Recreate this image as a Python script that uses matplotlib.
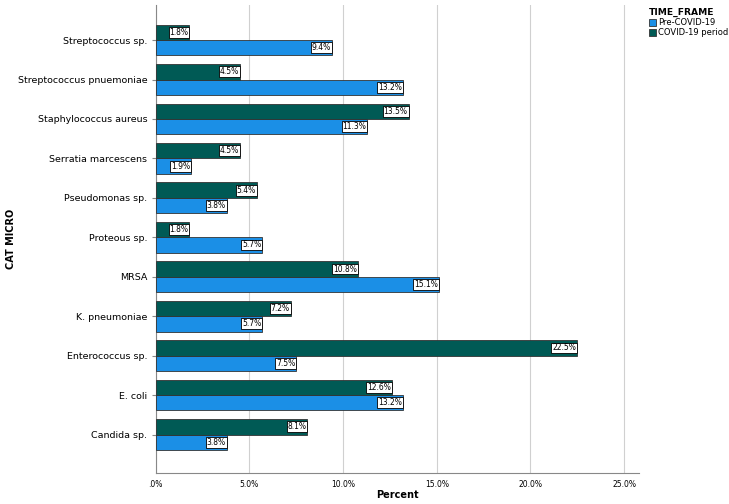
import numpy as np
import matplotlib.pyplot as plt

categories = ["Candida sp.", "E. coli", "Enterococcus sp.", "K. pneumoniae", "MRSA",
              "Proteous sp.", "Pseudomonas sp.", "Serratia marcescens",
              "Staphylococcus aureus", "Streptococcus pnuemoniae", "Streptococcus sp."]
pre_covid = [3.8, 13.2, 7.5, 5.7, 15.1, 5.7, 3.8, 1.9, 11.3, 13.2, 9.4]
covid = [8.1, 12.6, 22.5, 7.2, 10.8, 1.8, 5.4, 4.5, 13.5, 4.5, 1.8]
xticks = [0, 5, 10, 15, 20, 25]
xtick_labels = [".0%", "5.0%", "10.0%", "15.0%", "20.0%", "25.0%"]

blue = "#1b8fe6"
teal = "#005a55"

fig = plt.figure(figsize=(7.29, 5.04), dpi=100)
ax = fig.add_axes([0.2136, 0.0615, 0.663, 0.9286])

y = np.arange(len(categories))
h = 0.39
b1 = ax.barh(y - h / 2, pre_covid, height=h, color=blue, edgecolor="#333333", linewidth=0.6,
             label="Pre-COVID-19", zorder=3)
b2 = ax.barh(y + h / 2, covid, height=h, color=teal, edgecolor="#333333", linewidth=0.6,
             label="COVID-19 period", zorder=3)

box = dict(boxstyle="square,pad=0.12", fc="white", ec="black", lw=0.6)
for bars, vals in [(b1, pre_covid), (b2, covid)]:
    for bar, v in zip(bars, vals):
        ax.text(v - 0.05, bar.get_y() + bar.get_height() / 2, f"{v:.1f}%",
                ha="right", va="center", fontsize=5.5, bbox=box, zorder=4)

ax.set_xlim(0, 25.8)
ax.set_ylim(-0.976, 10.89)
ax.set_yticks(y)
ax.set_yticklabels(categories, fontsize=6.8)
ax.set_xticks(xticks)
ax.set_xticklabels(xtick_labels, fontsize=5.5)
ax.tick_params(axis="x", length=0, pad=5)
ax.tick_params(axis="y", length=3, color="#888888", pad=3)
ax.grid(axis="x", color="#d0d0d0", linewidth=0.8, zorder=0)
ax.spines["top"].set_visible(False)
ax.spines["right"].set_visible(False)
for s in ["left", "bottom"]:
    ax.spines[s].set_color("#888888")
    ax.spines[s].set_linewidth(0.8)

ax.set_xlabel("Percent", fontsize=7, fontweight="bold")
ax.xaxis.set_label_coords(0.5, -0.037)
ax.set_ylabel("CAT MICRO", fontsize=7, fontweight="bold")
ax.yaxis.set_label_coords(-0.29, 0.5)

leg = fig.legend(handles=[b1, b2], title="TIME_FRAME", loc="upper left",
                 bbox_to_anchor=(0.882, 0.995), frameon=False, fontsize=6,
                 title_fontproperties={"weight": "bold", "size": 6.6},
                 handlelength=0.9, handleheight=0.9, handletextpad=0.25,
                 labelspacing=0.1, borderpad=0.2)
leg._legend_box.align = "left"

fig.savefig("out.png", dpi=100)
